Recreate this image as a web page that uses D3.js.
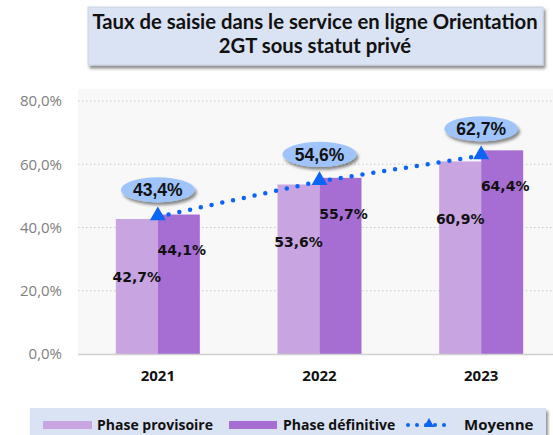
<!DOCTYPE html>
<html>
<head>
<meta charset="utf-8">
<script src="https://cdn.jsdelivr.net/npm/d3@7"></script>
<style>
  body { margin: 0; background: #fff; }
  svg { display: block; }
</style>
</head>
<body>
<svg id="chart" width="553" height="435"></svg>
<script>
const years = ['2021', '2022', '2023'];
const provisoire = [42.7, 53.6, 60.9];
const definitive = [44.1, 55.7, 64.4];
const moyenne = [43.4, 54.6, 62.7];
const yTicks = [0, 20, 40, 60, 80];
const titleLines = ['Taux de saisie dans le service en ligne Orientation', '2GT sous statut privé'];

const fmt = v => v.toFixed(1).replace('.', ',') + '%';
const svg = d3.select('#chart');
const W = 553, H = 435;

const defs = svg.append('defs');
const sh = defs.append('filter').attr('id', 'shadow').attr('x', '-20%').attr('y', '-20%').attr('width', '150%').attr('height', '160%');
sh.append('feDropShadow').attr('dx', 2).attr('dy', 3).attr('stdDeviation', 1.5).attr('flood-color', '#000').attr('flood-opacity', 0.45);

// plot area
const plotLeft = 78, plotTop = 101, plotBottom = 354;
const x = d3.scaleBand().domain(years).range([77, 562]);
const y = d3.scaleLinear().domain([0, 80]).range([plotBottom, plotTop]);

svg.append('rect').attr('x', plotLeft).attr('y', plotTop - 12).attr('width', W - plotLeft).attr('height', plotBottom - plotTop + 12)
  .attr('fill', '#f8f8f8');

// grid
svg.append('g').selectAll('line').data(yTicks.filter(d => d > 0)).join('line')
  .attr('x1', plotLeft).attr('x2', W).attr('y1', d => y(d)).attr('y2', d => y(d))
  .attr('stroke', '#c8c8c8').attr('stroke-width', 1).attr('stroke-dasharray', '1.5,2.5');

// y axis labels
const yAxis = d3.axisLeft(y).tickValues(yTicks).tickFormat(fmt).tickSize(0).tickPadding(16);
const ya = svg.append('g').attr('transform', `translate(${plotLeft},0)`).call(yAxis);
ya.select('.domain').remove();
ya.selectAll('text').attr('fill', '#808080').style('font', '15px "Open Sans", "Noto Sans", sans-serif');

// bars
const bw = 42;
const g = svg.append('g');
g.selectAll('.prov').data(provisoire).join('rect')
  .attr('x', (d, i) => x(years[i]) + x.bandwidth() / 2 - bw)
  .attr('y', d => y(d)).attr('width', bw).attr('height', d => plotBottom - y(d))
  .attr('fill', '#c8a5e1');
g.selectAll('.def').data(definitive).join('rect')
  .attr('x', (d, i) => x(years[i]) + x.bandwidth() / 2)
  .attr('y', d => y(d)).attr('width', bw).attr('height', d => plotBottom - y(d))
  .attr('fill', '#a66dd3');

// baseline
svg.append('line').attr('x1', plotLeft).attr('x2', W).attr('y1', plotBottom + 0.5).attr('y2', plotBottom + 0.5)
  .attr('stroke', '#d0d0d0').attr('stroke-width', 1.5);

// x labels
const xAxis = d3.axisBottom(x).tickSize(0).tickPadding(16);
const xa = svg.append('g').attr('transform', `translate(0,${plotBottom})`).call(xAxis);
xa.select('.domain').remove();
xa.selectAll('text').attr('fill', '#111').style('font', 'bold 15px "Open Sans", "Noto Sans", sans-serif');

// bar labels
const labFont = 'bold 14px "DejaVu Sans", Verdana, sans-serif';
g.selectAll('.lp').data(provisoire).join('text')
  .attr('x', (d, i) => x(years[i]) + x.bandwidth() / 2 - bw / 2)
  .attr('y', d => y(d) + 58).attr('dy', '0.35em').attr('text-anchor', 'middle')
  .attr('fill', '#111').style('font', labFont).text(fmt);
g.selectAll('.ld').data(definitive).join('text')
  .attr('x', (d, i) => x(years[i]) + x.bandwidth() / 2 + bw / 2 + 3)
  .attr('y', d => y(d) + 36).attr('dy', '0.35em').attr('text-anchor', 'middle')
  .attr('fill', '#111').style('font', labFont).text(fmt);

// moyenne line
const cx = i => x(years[i]) + x.bandwidth() / 2;
const line = d3.line().x((d, i) => cx(i)).y(d => y(d));
svg.append('path').datum(moyenne).attr('d', line).attr('fill', 'none')
  .attr('stroke', '#0a64f5').attr('stroke-width', 4.5).attr('stroke-linecap', 'round')
  .attr('stroke-dasharray', '0,11');
const tri = d3.symbol().type(d3.symbolTriangle).size(110);
svg.append('g').selectAll('path').data(moyenne).join('path')
  .attr('d', tri).attr('transform', (d, i) => `translate(${cx(i)},${y(d) - 1})`)
  .attr('fill', '#0a64f5');

// callouts
const co = svg.append('g').selectAll('g').data(moyenne).join('g')
  .attr('transform', (d, i) => `translate(${cx(i)},${y(d) - 27})`);
co.append('ellipse').attr('rx', 37).attr('ry', 12.5).attr('fill', '#9ec4fb').attr('filter', 'url(#shadow)');
co.append('text').attr('text-anchor', 'middle').attr('dy', '0.36em').attr('fill', '#111')
  .style('font', 'bold 17.5px "Liberation Sans Narrow", "Arial Narrow", sans-serif')
  .style('font-stretch', 'condensed').text(fmt);

// title
const tg = svg.append('g');
tg.append('rect').attr('x', 88).attr('y', 7).attr('width', 455).attr('height', 58)
  .attr('fill', '#dae3f3').attr('stroke', '#c9d3e6').attr('filter', 'url(#shadow)');
tg.selectAll('text').data(titleLines).join('text')
  .attr('x', 315).attr('y', (d, i) => 29 + i * 24).attr('text-anchor', 'middle')
  .attr('fill', '#111').style('font', 'bold 20.3px Lato, "Open Sans", sans-serif')
  .text(d => d);

// legend
const lg = svg.append('g');
lg.append('rect').attr('x', 30).attr('y', 408).attr('width', 516).attr('height', 32)
  .attr('fill', '#dae3f3').attr('filter', 'url(#shadow)');
const legFont = 'bold 14px "Open Sans", "Noto Sans", sans-serif';
const ly = 425;
lg.append('rect').attr('x', 43).attr('y', ly - 4).attr('width', 49).attr('height', 8).attr('fill', '#c8a5e1');
lg.append('text').attr('x', 97).attr('y', ly).attr('dy', '0.35em').style('font', legFont).attr('fill', '#111').text('Phase provisoire');
lg.append('rect').attr('x', 229).attr('y', ly - 4).attr('width', 48).attr('height', 8).attr('fill', '#a66dd3');
lg.append('text').attr('x', 283).attr('y', ly).attr('dy', '0.35em').style('font', legFont).attr('fill', '#111').text('Phase définitive');
lg.append('line').attr('x1', 408).attr('x2', 451).attr('y1', ly).attr('y2', ly)
  .attr('stroke', '#0a64f5').attr('stroke-width', 4).attr('stroke-linecap', 'round').attr('stroke-dasharray', '0,9');
lg.append('path').attr('d', d3.symbol().type(d3.symbolTriangle).size(45)).attr('transform', `translate(429,${ly - 1})`).attr('fill', '#0a64f5');
lg.append('text').attr('x', 464).attr('y', ly).attr('dy', '0.35em').style('font', 'bold 15px "Open Sans", "Noto Sans", sans-serif').attr('fill', '#111').text('Moyenne');
</script>
</body>
</html>
